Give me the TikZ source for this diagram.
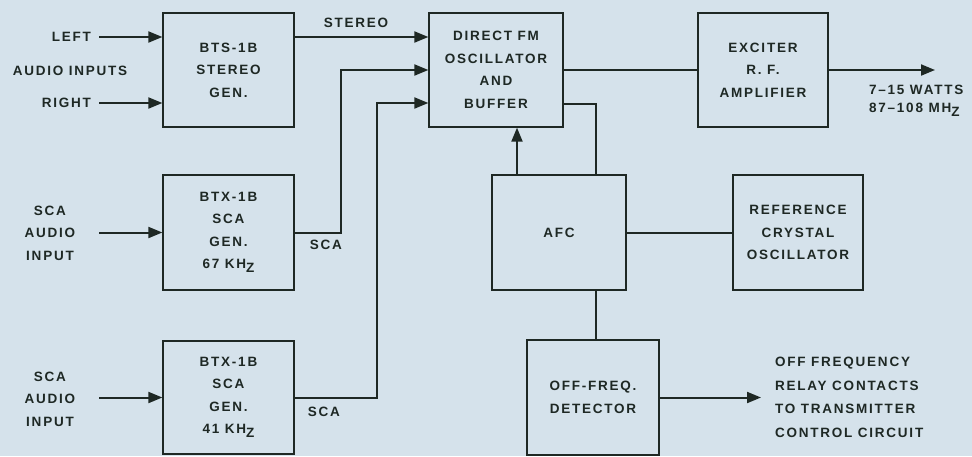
\documentclass[tikz,border=0pt]{standalone}
\usepackage{fontspec}
\setmainfont{Liberation Sans}[LetterSpace=13]
\usetikzlibrary{arrows.meta}
\definecolor{bg}{HTML}{D5E2EB}
\definecolor{ink}{HTML}{1E2824}
\begin{document}
\begin{tikzpicture}[x=1pt,y=-1pt,
  every node/.style={font=\fontsize{13.5}{22.5}\selectfont\bfseries, text=ink},
  box/.style={draw=ink, line width=1.3pt, align=center, inner sep=0pt},
  conn/.style={draw=ink, line width=2pt},
  arr/.style={conn, -{Triangle[length=14pt,width=11pt]}},
  lbl/.style={inner sep=0pt, align=center}]
\fill[bg] (0,0) rectangle (972,456);
\useasboundingbox (0,0) rectangle (972,456);

% boxes
\node[box, minimum width=131pt, minimum height=114pt] (bts) at (228.5,70) {BTS-1B\\STEREO\\GEN.};
\node[box, minimum width=131pt, minimum height=115pt] (sca1) at (228.5,232.5) {BTX-1B\\SCA\\GEN.\\67 KH\raisebox{-4pt}{Z}};
\node[box, minimum width=131pt, minimum height=113pt] (sca2) at (228.5,397.5) {BTX-1B\\SCA\\GEN.\\41 KH\raisebox{-4pt}{Z}};
\node[box, minimum width=134pt, minimum height=114pt] (dfm) at (496,70) {DIRECT FM\\OSCILLATOR\\AND\\BUFFER};
\node[box, minimum width=130pt, minimum height=114pt] (exc) at (763,70) {EXCITER\\R. F.\\AMPLIFIER};
\node[box, minimum width=134pt, minimum height=115pt] (afc) at (559,232.5) {AFC};
\node[box, minimum width=130pt, minimum height=115pt] (ref) at (798,232.5) {REFERENCE\\CRYSTAL\\OSCILLATOR};
\node[box, minimum width=132pt, minimum height=115pt] (off) at (593,397.5) {OFF-FREQ.\\DETECTOR};

% input labels
\node[anchor=east, inner ysep=0pt, inner xsep=8pt] (lft) at (99,37) {LEFT};
\node[lbl] (ain) at (70,71) {AUDIO INPUTS};
\node[anchor=east, inner ysep=0pt, inner xsep=8pt] (rgt) at (99,103) {RIGHT};
\node[lbl] (sin1) at (50,233) {SCA\\AUDIO\\INPUT};
\node[lbl] (sin2) at (50,399) {SCA\\AUDIO\\INPUT};
\coordinate (s1s) at (99,232.5);
\coordinate (s2s) at (99,397.5);

% other labels
\node[lbl] (stl) at (356,23) {STEREO};
\node[lbl] (scl1) at (326,245) {SCA};
\node[lbl] (scl2) at (324,412) {SCA};
\node[lbl, anchor=west, align=left, font=\fontsize{13.5}{18}\selectfont\bfseries] (pwr) at (869,101) {7\textendash15 WATTS\\87\textendash108 MH\raisebox{-4pt}{Z}};
\node[lbl, anchor=west, align=left, font=\fontsize{13.5}{23.5}\selectfont\bfseries] (offt) at (775,397.5) {OFF FREQUENCY\\RELAY CONTACTS\\TO TRANSMITTER\\CONTROL CIRCUIT};

% bend coordinates
\coordinate (b1) at (341,0);
\coordinate (b2) at (377,0);
\coordinate (c1) at (517,0);
\coordinate (c2) at (596,0);
\coordinate (outtip) at (935,70);
\coordinate (offtip) at (761,397.5);

% connectors
\draw[arr] (lft.east) -- (lft.east -| bts.west);
\draw[arr] (rgt.east) -- (rgt.east -| bts.west);
\draw[arr] (s1s) -- (sca1.west);
\draw[arr] (s2s) -- (sca2.west);
\draw[arr] (bts.east |- lft.east) -- (dfm.west |- lft.east);
\draw[arr] (sca1.east) -| (b1 |- dfm.west) -- (dfm.west);
\draw[arr] (sca2.east) -| (b2 |- rgt.east) -- (dfm.west |- rgt.east);
\draw[conn] (dfm.east) -- (exc.west);
\draw[arr] (exc.east) -- (outtip);
\draw[arr] (c1 |- afc.north) -- (c1 |- dfm.south);
\draw[conn] ([yshift=-1pt]dfm.east |- rgt.east) -| (c2 |- afc.north);
\draw[conn] (afc.east) -- (ref.west);
\draw[conn] (c2 |- afc.south) -- (c2 |- off.north);
\draw[arr] (off.east) -- (offtip);
\end{tikzpicture}
\end{document}
